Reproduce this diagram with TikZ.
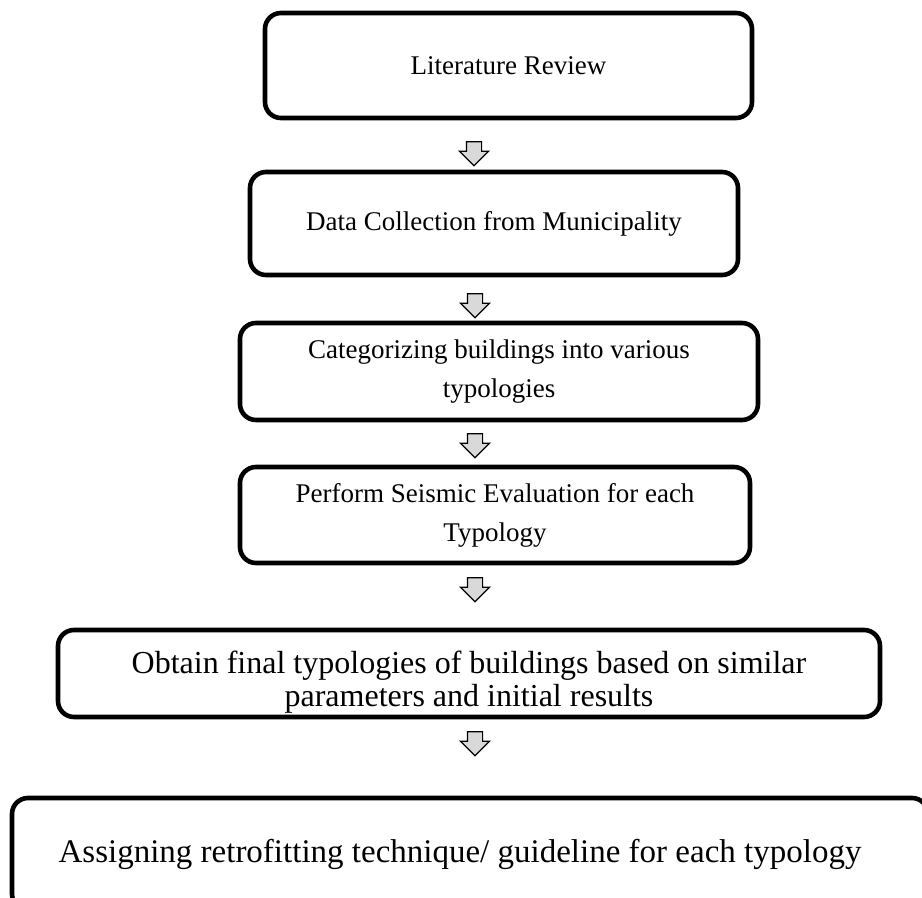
\documentclass[tikz,border=0pt]{standalone}
\usepackage{fontspec}
\setmainfont{Liberation Serif}
\usetikzlibrary{shapes.arrows}

\begin{document}
\begin{tikzpicture}[x=0.5pt,y=-0.5pt,
  stagebox/.style={draw, line width=2.3pt, rounded corners=8pt, align=center,
    font=\fontsize{13.5}{19.5}\selectfont},
  widebox/.style={stagebox, font=\fontsize{16}{16.5}\selectfont},
  downarrow/.style={single arrow, draw, line width=0.6pt, fill=gray!30,
    rotate=-90, minimum height=12pt, inner sep=3.5pt,
    single arrow head extend=3.5pt}]
\useasboundingbox (0,0) rectangle (922,898);
\clip (0,0) rectangle (922,898);

\node (review) [stagebox, minimum width=243.5pt, minimum height=52.5pt] at (508.5,65.5) {Literature Review};
\node (data) [stagebox, minimum width=244pt, minimum height=51.5pt] at (494,223.5) {Data Collection from Municipality};
\node (categ) [stagebox, minimum width=259pt, minimum height=48.5pt] at (499,371.5) {Categorizing buildings into various\\ typologies};
\node (seismic) [stagebox, minimum width=255pt, minimum height=48pt] at (495,515) {Perform Seismic Evaluation for each\\ Typology};
\node (final) [widebox, inner ysep=0pt, minimum width=411pt, minimum height=43.5pt] at (469,673.5) {\rule{0pt}{20pt}Obtain final typologies of buildings based on similar\\ parameters and initial results};
\node (retro) [widebox, font=\fontsize{16.5}{18}\selectfont, minimum width=458pt, minimum height=56pt] at (470,854) {Assigning retrofitting technique/ guideline for each typology\hspace*{10pt}};

% arrows between the stages
\node (a1) [downarrow] at (474,150) {};
\node (a2) [downarrow] at (475,302) {};
\node (a3) [downarrow] at (475,442) {};
\node (a4) [downarrow] at (475,586) {};
\node (a5) [downarrow] at (475,740) {};
\end{tikzpicture}
\end{document}
